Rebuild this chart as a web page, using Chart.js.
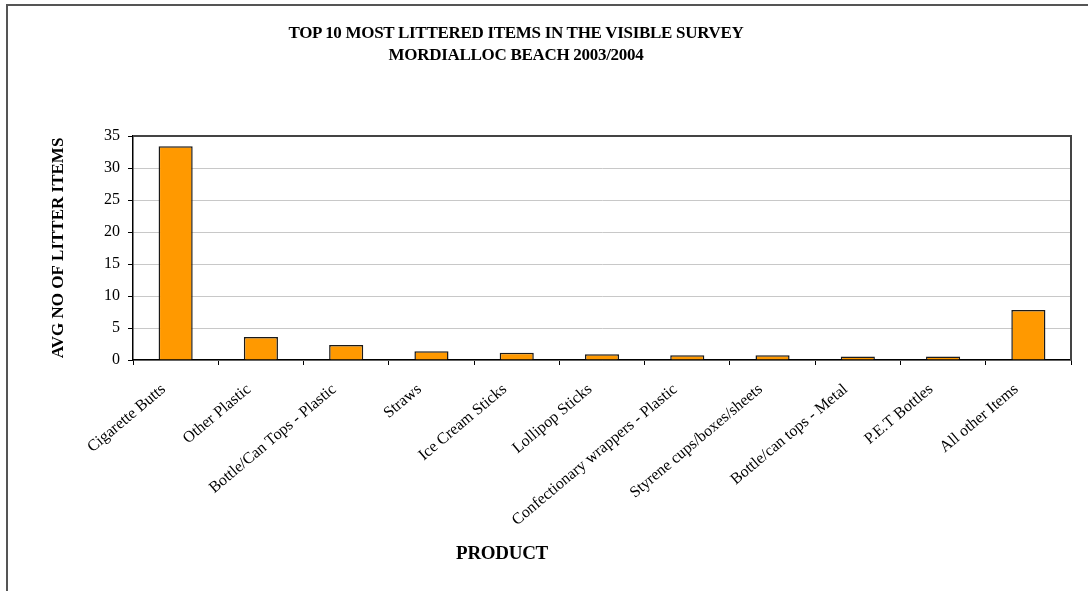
<!DOCTYPE html>
<html>
<head>
<meta charset="utf-8">
<script src="https://cdn.jsdelivr.net/npm/chart.js@4/dist/chart.umd.min.js"></script>
<style>
  body { margin: 0; background: #fff; }
  #wrap { position: relative; width: 1088px; height: 591px; overflow: hidden; }
  #frame { position: absolute; left: 6px; top: 4px; width: 1100px; height: 620px; border: 2px solid #555; box-sizing: border-box; }
  #chart { position: absolute; left: 0; top: 0; }
  .lbl { position: absolute; font-family: 'Liberation Serif', 'Times New Roman', serif; font-weight: bold; color: #000; text-align: center; }
  #title { left: 0; width: 1032px; top: 22px; line-height: 22px; font-size: 17px; letter-spacing: -0.3px; }
  #xtitle { left: 0; width: 1004px; top: 543px; line-height: 20px; font-size: 19px; letter-spacing: -0.3px; }
</style>
</head>
<body>
<div id="wrap">
  <div id="frame"></div>
  <canvas id="chart" width="1088" height="591"></canvas>
  <div id="title" class="lbl">TOP 10 MOST LITTERED ITEMS IN THE VISIBLE SURVEY<br>MORDIALLOC BEACH 2003/2004</div>
  <div id="xtitle" class="lbl">PRODUCT</div>
</div>
<script>
const products = ['Cigarette Butts', 'Other Plastic', 'Bottle/Can Tops - Plastic', 'Straws', 'Ice Cream Sticks',
  'Lollipop Sticks', 'Confectionary wrappers - Plastic', 'Styrene cups/boxes/sheets', 'Bottle/can tops - Metal',
  'P.E.T Bottles', 'All other Items'];
const avgItems = [33.4, 3.6, 2.35, 1.35, 1.15, 0.9, 0.75, 0.75, 0.55, 0.55, 7.8];
const yTicks = [0, 5, 10, 15, 20, 25, 30, 35];

const serif = "'Liberation Serif', 'Times New Roman', serif";

// dark frame round the plot area (top and right side)
const plotFrame = {
  id: 'plotFrame',
  afterDraw(chart) {
    const { ctx, chartArea: a } = chart;
    ctx.save();
    ctx.strokeStyle = '#444';
    ctx.lineWidth = 2;
    ctx.beginPath();
    ctx.moveTo(a.left, a.top);
    ctx.lineTo(a.right, a.top);
    ctx.lineTo(a.right, a.bottom);
    ctx.stroke();
    ctx.restore();
  }
};

new Chart(document.getElementById('chart'), {
  type: 'bar',
  data: {
    labels: products,
    datasets: [{
      label: 'AVG NO OF LITTER ITEMS',
      data: avgItems,
      backgroundColor: '#ff9900',
      borderColor: '#1a1a1a',
      borderWidth: 1.5,
      categoryPercentage: 1,
      barPercentage: 0.4
    }]
  },
  options: {
    responsive: false,
    animation: false,
    layout: {
      padding: { left: 45, top: 136, right: 17, bottom: 25 }
    },
    plugins: {
      legend: { display: false },
      tooltip: { enabled: false }
    },
    scales: {
      x: {
        afterFit: (scale) => { scale.height = 206; },
        border: { color: '#000', width: 1.5 },
        grid: {
          offset: true,
          drawOnChartArea: false,
          drawTicks: true,
          tickLength: 5,
          tickColor: '#000'
        },
        ticks: {
          autoSkip: false,
          minRotation: 40,
          maxRotation: 40,
          padding: 15,
          labelOffset: -12,
          color: '#000',
          font: { family: serif, size: 16 }
        }
      },
      y: {
        min: 0,
        max: 35,
        afterFit: (scale) => { scale.width = 88; },
        afterBuildTicks: (scale) => { scale.ticks = yTicks.map(v => ({ value: v })); },
        border: { color: '#000', width: 1.5 },
        grid: {
          color: '#c8c8c8',
          lineWidth: 1,
          tickLength: 5,
          tickColor: '#000'
        },
        ticks: {
          padding: 8,
          color: '#000',
          font: { family: serif, size: 16 }
        },
        title: {
          display: true,
          text: 'AVG NO OF LITTER ITEMS',
          color: '#000',
          padding: { top: 3, bottom: 0 },
          font: { family: serif, size: 17, weight: 'bold' }
        }
      }
    }
  },
  plugins: [plotFrame]
});
</script>
</body>
</html>
